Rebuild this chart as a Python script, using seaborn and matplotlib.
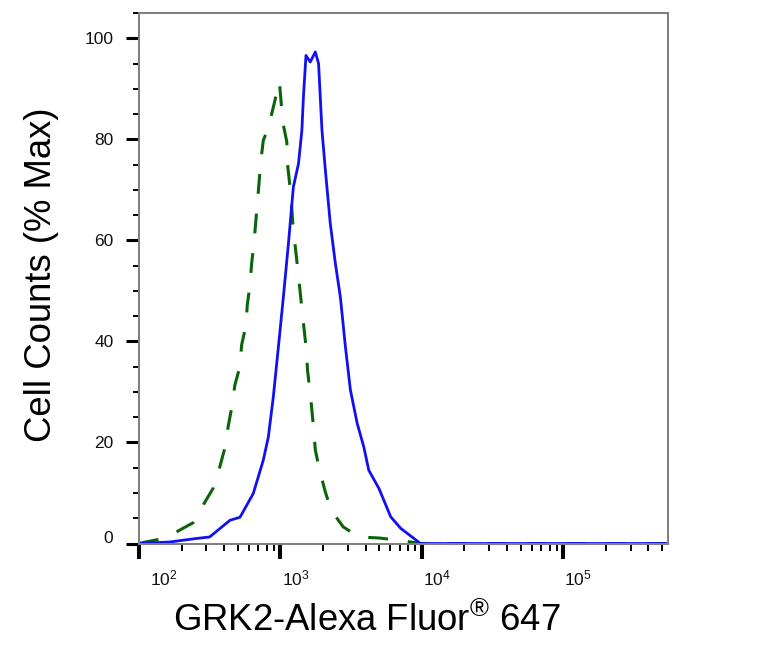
import numpy as np
import pandas as pd
import matplotlib
matplotlib.use("Agg")
import matplotlib.pyplot as plt
import matplotlib.ticker as mticker
from matplotlib.transforms import ScaledTranslation
import seaborn as sns

# Histogram outlines (intensity, % of max)
stained_x = [100, 165, 255, 316, 440, 518, 643, 757, 822, 891, 968, 1050, 1140,
             1236, 1343, 1419, 1455, 1517, 1626, 1766, 1862, 1968, 2080, 2254,
             2449, 2655, 2884, 3126, 3491, 3890, 4217, 4977, 6026, 7096, 8810,
             9772, 20000, 60000, 150000, 550000]
stained_y = [0, 0.3, 1.0, 1.3, 4.6, 5.2, 9.9, 16.5, 21.1, 29.0, 38.9, 48.8, 59.4,
             70.6, 75.2, 81.8, 88.4, 96.6, 95.3, 97.3, 95.0, 81.8, 73.9, 63.3,
             55.4, 48.8, 38.9, 30.4, 23.8, 19.1, 14.5, 10.9, 5.3, 3.0, 1.0,
             0, 0, 0, 0, 0]

control_x = [100, 111, 150, 184, 241, 284, 334, 373, 404, 427, 451, 477, 517,
             532, 571, 583, 609, 626, 650, 668, 695, 726, 757, 818, 892, 984,
             1040, 1110, 1122, 1186, 1225, 1271, 1343, 1442, 1523, 1556, 1644,
             1717, 1766, 1893, 2080, 2282, 2781, 3581, 4943, 6714, 9772,
             30000, 120000, 550000]
control_y = [0, 0.3, 1.0, 2.3, 4.1, 7.6, 10.9, 15.2, 18.8, 23.1, 26.7, 31.4, 35.0,
             39.3, 43.2, 47.2, 51.1, 55.4, 59.4, 63.3, 69.0, 75.5, 79.8, 82.1,
             86.4, 91.4, 83.4, 79.5, 75.2, 69.0, 63.3, 59.0, 53.0, 44.6, 38.6,
             34.3, 28.4, 22.8, 18.5, 14.5, 10.2, 6.6, 3.3, 1.3, 1.1, 0.7, 0,
             0, 0, 0]

x_ticks = [1e2, 1e3, 1e4, 1e5]
x_tick_labels = [r"$10^{2}$", r"$10^{3}$", r"$10^{4}$", r"$10^{5}$"]
y_ticks = [0, 20, 40, 60, 80, 100]

stained = pd.DataFrame({"x": stained_x, "y": stained_y})
control = pd.DataFrame({"x": control_x, "y": control_y})

sns.set_theme(style="white")
plt.rcParams["font.family"] = ["Liberation Sans", "DejaVu Sans"]
plt.rcParams["mathtext.fontset"] = "custom"
plt.rcParams["mathtext.rm"] = "Liberation Sans"
plt.rcParams["mathtext.it"] = "Liberation Sans"

fig = plt.figure(figsize=(7.83, 6.5), dpi=100)
ax = fig.add_axes([0.1775, 0.1638, 0.6755, 0.8162])

sns.lineplot(data=control, x="x", y="y", ax=ax, color="#0a640a", lw=2.2,
             ls=(0, (6.5, 6.5)), sort=False, clip_on=False)
sns.lineplot(data=stained, x="x", y="y", ax=ax, color="#1010f0", lw=2.0,
             sort=False, clip_on=False)

ax.set_xscale("log")
ax.set_xlim(100, 550000)
ax.set_ylim(0, 105)

ax.set_xticks(x_ticks)
ax.set_xticklabels(x_tick_labels, fontsize=12.5)
ax.xaxis.set_minor_locator(mticker.LogLocator(base=10, subs=np.arange(2, 10)))
ax.xaxis.set_minor_formatter(mticker.NullFormatter())
ax.set_yticks(y_ticks)
ax.set_yticklabels([str(v) for v in y_ticks], fontsize=12.5)
ax.yaxis.set_minor_locator(mticker.MultipleLocator(5))

ax.tick_params(axis="x", which="major", direction="out", length=10.8, width=2.9,
               color="black", pad=7, bottom=True)
ax.tick_params(axis="x", which="minor", direction="out", length=5, width=1.4,
               color="black", bottom=True)
ax.tick_params(axis="y", which="major", direction="out", length=9.4, width=2.2,
               color="black", pad=9, left=True)
ax.tick_params(axis="y", which="minor", direction="out", length=4.3, width=1.4,
               color="black", left=True)
ax.tick_params(labelcolor="#111111")

for sp in ax.spines.values():
    sp.set_color("#808080")
    sp.set_linewidth(1.44)

# shift x tick labels to the right of their ticks, as in the reference
for i, lab in enumerate(ax.get_xticklabels()):
    dx = 25 if i == 0 else 15
    lab.set_transform(lab.get_transform() + ScaledTranslation(dx / 100, 0, fig.dpi_scale_trans))
ylab0 = ax.get_yticklabels()[0]
ylab0.set_transform(ylab0.get_transform() + ScaledTranslation(0, 7 / 100, fig.dpi_scale_trans))

ax.set_xlabel("GRK2-Alexa Fluor$^{®}$ 647", fontsize=26.3, color="black")
ax.xaxis.label.set_va("baseline")
ax.xaxis.set_label_coords(0.43, -0.165)
ax.set_ylabel("Cell Counts (% Max)", fontsize=26.3, color="black")
ax.yaxis.set_label_coords(-0.151, 0.506)

fig.savefig("out.png", dpi=100)
